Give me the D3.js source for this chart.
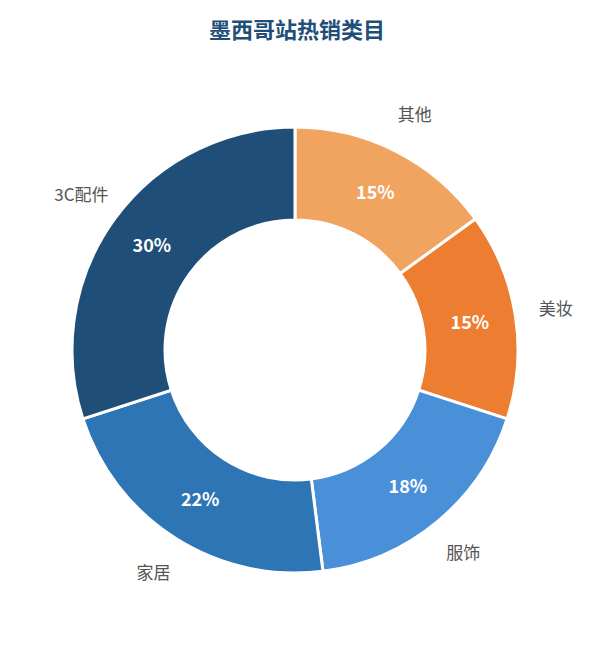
<!DOCTYPE html>
<html><head><meta charset="utf-8">
<script src="https://cdn.jsdelivr.net/npm/d3@7"></script>
<style>body{margin:0;background:#fff}</style>
</head><body>
<svg id="chart" width="595" height="645"></svg>
<script>
const categories = ["其他", "美妆", "服饰", "家居", "3C配件"];
const shares = [15, 15, 18, 22, 30];
const colors = ["#f0a45f", "#ed7d31", "#4a90d9", "#2e75b6", "#1f4e79"];
const font = "'Noto Sans CJK SC', 'Open Sans', sans-serif";

const svg = d3.select("#chart");
svg.append("text").attr("x", 297).attr("y", 38).attr("text-anchor", "middle")
  .attr("font-family", font).attr("font-weight", "bold").attr("font-size", 22)
  .attr("fill", "#1f4e79").text("墨西哥站热销类目");

const data = categories.map((c, i) => ({ name: c, value: shares[i], color: colors[i] }));
const pie = d3.pie().value(d => d.value).sort(null);
const arc = d3.arc().innerRadius(130).outerRadius(223);
const mid = d3.arc().innerRadius(177).outerRadius(177);
const outer = d3.arc().innerRadius(264).outerRadius(264);

const g = svg.append("g").attr("transform", "translate(295,350)");
const arcs = pie(data);
g.selectAll("path").data(arcs).enter().append("path")
  .attr("d", arc).attr("fill", d => d.data.color)
  .attr("stroke", "#fff").attr("stroke-width", 3);

g.selectAll("text.pct").data(arcs).enter().append("text").attr("class", "pct")
  .attr("transform", d => `translate(${mid.centroid(d)})`)
  .attr("text-anchor", "middle").attr("dy", "0.35em")
  .attr("font-family", font).attr("font-weight", "bold").attr("font-size", 18)
  .attr("fill", "#fff").text(d => d.data.value + "%");

g.selectAll("text.lbl").data(arcs).enter().append("text").attr("class", "lbl")
  .attr("transform", d => `translate(${outer.centroid(d)})`)
  .attr("text-anchor", "middle").attr("dy", "0.35em")
  .attr("font-family", font).attr("font-size", 17)
  .attr("fill", "#555").text(d => d.data.name);
</script>
</body></html>
